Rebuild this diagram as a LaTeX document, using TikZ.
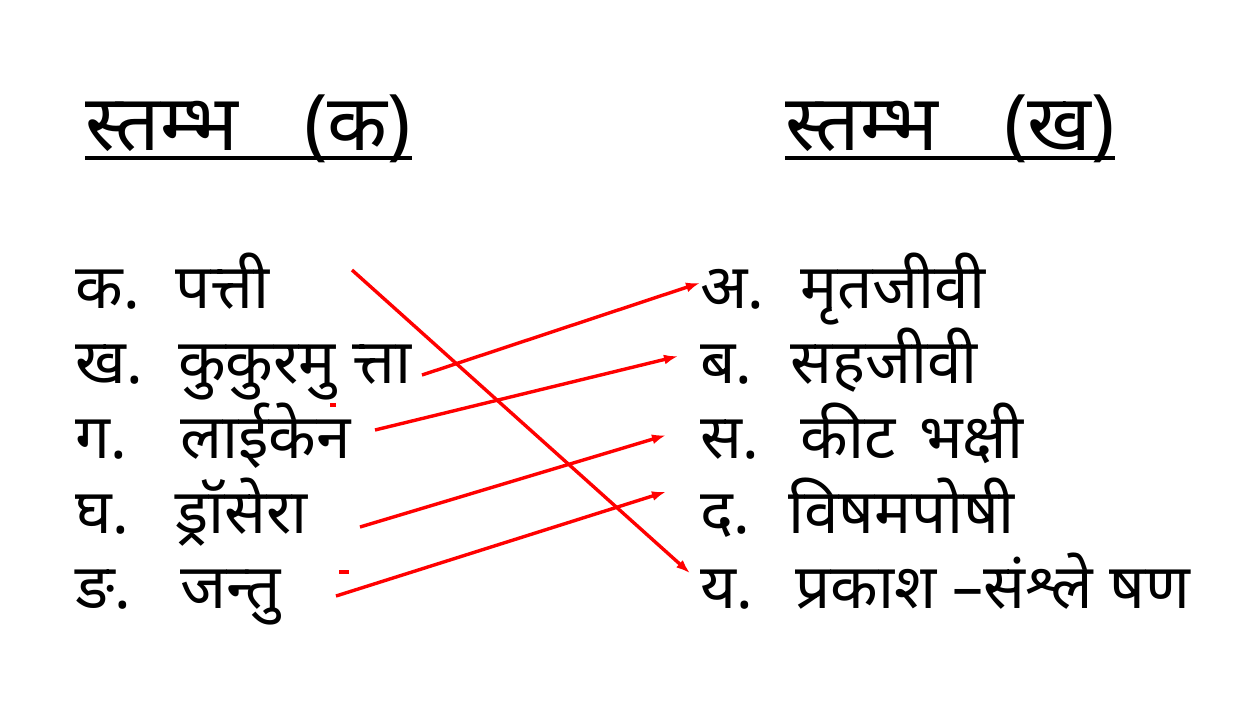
\documentclass[tikz,border=0pt]{standalone}
\usepackage{fontspec}
\newfontfamily\deva[Script=Devanagari]{Noto Sans}
\usetikzlibrary{arrows.meta}

\tikzset{
  item/.style={anchor=base west, inner sep=0pt, font=\deva\fontsize{31}{36}\selectfont},
  head/.style={anchor=base west, inner sep=0pt, font=\deva\bfseries\fontsize{39}{44}\selectfont},
  link/.style={red, line width=1.7pt, -{Latex[length=7pt,width=5pt]}}
}

\begin{document}
\begin{tikzpicture}[x=0.5pt,y=-0.5pt]
   \useasboundingbox (0,0) rectangle (1248,720);
   % headings
   \node[head] (h1) at (85,150) {स्तम्भ\hspace{33pt}(क)};
   \node[head] (h2) at (785,150) {स्तम्भ\hspace{33pt}(ख)};
   \draw[line width=2pt] ([yshift=-4pt]h1.base west) -- ([yshift=-4pt]h1.base east);
   \draw[line width=2pt] ([yshift=-4pt]h2.base west) -- ([yshift=-4pt]h2.base east);
   % column k
   \node[item] (ka)  at (75,308) {क.};
   \node[item] (ka2) at (175,308) {पत्ती};
   \node[item] (kha) at (75,383) {ख.};
   \node[item] (kha2) at (178,383) {कुकुरमु त्ता};
   \node[item] (ga)  at (75,458) {ग.};
   \node[item] (ga2) at (180,458) {लाईकेन};
   \node[item] (gha) at (75,533) {घ.};
   \node[item] (gha2) at (175,533) {ड्रॉसेरा};
   \node[item] (nga) at (75,608) {ङ.};
   \node[item] (nga2) at (180,608) {जन्तु};
   % column kh
   \node[item] (a)   at (700,308) {अ.};
   \node[item] (a2)  at (800,308) {मृतजीवी};
   \node[item] (ba)  at (700,383) {ब.};
   \node[item] (ba2) at (790,383) {सहजीवी};
   \node[item] (sa)  at (700,458) {स.};
   \node[item] (sa2) at (800,458) {कीट\hspace{12pt}भक्षी};
   \node[item] (da)  at (700,533) {द.};
   \node[item] (da2) at (788,533) {विषमपोषी};
   \node[item] (ya)  at (700,608) {य.};
   \node[item] (ya2) at (795,608) {प्रकाश –संश्ले षण};
   % free ends
   \coordinate (s1) at (352,270);
   \coordinate (s2) at (422,375);
   \coordinate (s3) at (375,430);
   \coordinate (s4) at (360,527);
   \coordinate (s5) at (336,596);
   % matching
   \draw[link] (s1) -- ([xshift=-5pt,yshift=8pt]ya.west);
   \draw[link] (s2) -- ([yshift=3pt]a.west);
   \draw[link] (s3) -- ([xshift=-11pt,yshift=4pt]ba.west);
   \draw[link] (s4) -- ([xshift=-17pt,yshift=2pt]sa.west);
   \draw[link] (s5) -- ([xshift=-17pt,yshift=12pt]da.west);
   % stray marks
   \fill[red] (330,403) rectangle (336,407);
   \fill[red] (339,570) rectangle (349,574);
\end{tikzpicture}
\end{document}
